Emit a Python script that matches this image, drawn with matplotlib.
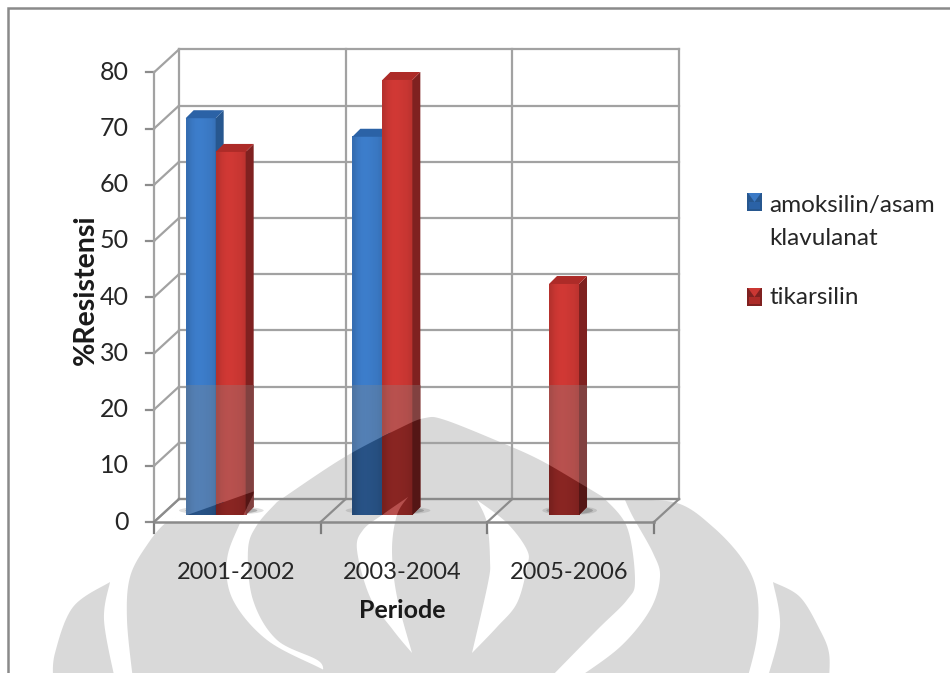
import matplotlib
matplotlib.use('Agg')
import matplotlib.pyplot as plt
import numpy as np
from matplotlib.path import Path
from matplotlib.patches import PathPatch, Ellipse, Polygon
from matplotlib.transforms import Affine2D

periods = ['2001-2002', '2003-2004', '2005-2006']
series_names = ['amoksilin/asam\nklavulanat', 'tikarsilin']
amoksilin = [70.6, 67.3, 0]
tikarsilin = [64.6, 77.4, 41.1]
y_ticks = [0, 10, 20, 30, 40, 50, 60, 70, 80]

# bar colours: front, side, top
blue = ('#3b7ac6', '#27578f', '#2b62a6')
red = ('#cb3733', '#7f2120', '#ad2b28')

plt.rcParams['font.family'] = ['Lato', 'DejaVu Sans']

fig = plt.figure(figsize=(9.5, 6.73), dpi=100)
ax = fig.add_axes([0, 0, 1, 1])
ax.axis('off')

# image-style pixel coordinates for the page furniture
px = Affine2D().scale(1 / 950, -1 / 673).translate(0, 1) + fig.transFigure

DX, DY = 0.15, 4.09  # depth of the chart box
BAR_W, BAR_X0 = 0.18, 0.19
BAR_BASE = 1.25
BAR_DX, BAR_DY = 0.048, 1.42
GRID = '#a2a2a2'


def ring(points):
    # same winding for every contour, so holes can be reversed
    pts = np.array(points, float)
    x, y = pts[:, 0], pts[:, 1]
    area = np.sum(x * np.roll(y, -1) - np.roll(x, -1) * y)
    return pts if area > 0 else pts[::-1]


def smooth(points, n=14):
    # Catmull-Rom through the outline points
    pts = np.array(points, float)
    out = []
    for i in range(len(pts) - 1):
        p0 = pts[max(i - 1, 0)]
        p1 = pts[i]
        p2 = pts[i + 1]
        p3 = pts[min(i + 2, len(pts) - 1)]
        for t in np.linspace(0, 1, n, endpoint=False):
            out.append(0.5 * (2 * p1 + (p2 - p0) * t + (2 * p0 - 5 * p1 + 4 * p2 - p3) * t ** 2
                              + (3 * p1 - p0 - 3 * p2 + p3) * t ** 3))
    out.append(pts[-1])
    return out


def contour_path(contours):
    verts, codes = [], []
    for c in contours:
        c = list(c)
        verts += c + [c[0]]
        codes += [Path.MOVETO] + [Path.LINETO] * (len(c) - 1) + [Path.CLOSEPOLY]
    return Path(np.array(verts), codes)


# background emblem: one body cut by two open strips, two lenses, two outer pieces
base = ring(smooth([(133, 680), (127, 620), (130, 577), (147, 545), (167, 522), (190, 514), (255, 491)])
            + smooth([(255, 491), (240, 523), (227, 560), (233, 600), (267, 640), (320, 668), (345, 680)])
            + smooth([(320, 680), (320, 662), (277, 640), (253, 600), (248, 550), (257, 525), (277, 502)])
            + smooth([(277, 502), (343, 458), (400, 428), (425, 418), (445, 420), (500, 442), (540, 460),
                      (583, 485), (603, 497)])
            + smooth([(603, 497), (627, 527), (635, 580), (627, 600), (597, 630), (548, 680)])
            + smooth([(575, 680), (620, 647), (650, 610), (660, 577), (653, 553), (633, 517), (625, 500)])
            + smooth([(625, 500), (677, 503), (713, 527), (743, 560), (757, 593), (757, 637), (747, 680)]))
left_lens = smooth([(408, 497), (382, 515), (363, 530), (357, 550), (370, 597), (393, 630), (412, 653)]) \
    + smooth([(412, 653), (397, 597), (392, 550), (397, 515), (408, 497)])
right_lens = smooth([(477, 500), (507, 523), (527, 550), (527, 567), (517, 603), (497, 627), (472, 653)]) \
    + smooth([(472, 653), (488, 583), (490, 560), (487, 523), (477, 500)])
far_left = smooth([(110, 582), (73, 607), (55, 653), (53, 680)]) + smooth([(115, 680), (104, 620), (110, 582)])
far_right = smooth([(773, 582), (800, 597), (820, 630), (829, 653), (829, 680)]) \
    + smooth([(767, 680), (780, 627), (773, 582)])

emblem = contour_path([base] + [ring(c)[::-1] for c in (left_lens, right_lens)]
                      + [ring(far_left), ring(far_right)])
ax.add_patch(PathPatch(emblem, transform=px, facecolor='#d9d9d9', edgecolor='none', zorder=1))
# the floor stays white left of the first strip
ax.add_patch(Polygon([(158, 523), (240, 523), (258, 490), (250, 490), (190, 512)], transform=px,
                     facecolor='white', edgecolor='none', zorder=1.5))

# walls and floor of the chart box
n = len(periods)
for v in y_ticks:
    ax.plot([DX, n + DX], [v + DY, v + DY], color=GRID, lw=1.6, zorder=2)
    ax.plot([0, DX], [v, v + DY], color=GRID, lw=1.6, zorder=2)
    ax.plot([-0.05, 0], [v, v], color='#8c8c8c', lw=1.6, zorder=2)
    ax.text(-0.15, v, str(v), ha='right', va='center', fontsize=18, color='#262626', zorder=7)
ax.plot([0, 0], [0, 80], color=GRID, lw=1.6, zorder=2)
for i in range(n + 1):
    ax.plot([i + DX, i + DX], [DY, 80 + DY], color=GRID, lw=1.6, zorder=2)
    ax.plot([i, i + DX], [0, DY], color='#8c8c8c', lw=1.6, zorder=2)
    ax.plot([i, i], [0, -1.9], color='#7c7c7c', lw=1.6, zorder=2)
ax.plot([0, n], [0, 0], color='#8a8a8a', lw=1.8, zorder=2)
ax.plot([DX, n + DX], [DY, DY], color='#8a8a8a', lw=1.6, zorder=2)

ramp = np.array([0.9, 0.98, 1.02, 1.03, 1.02, 1.0, 0.98, 0.93])
band = Path([(0, 385), (950, 385), (950, 680), (0, 680), (0, 385)])


def draw_bar(x0, value, colours):
    x1 = x0 + BAR_W
    top = BAR_BASE + value
    rgb = np.array(matplotlib.colors.to_rgb(colours[0]))
    side = [(x1, BAR_BASE), (x1 + BAR_DX, BAR_BASE + BAR_DY), (x1 + BAR_DX, top + BAR_DY), (x1, top)]
    lid = [(x0, top), (x1, top), (x1 + BAR_DX, top + BAR_DY), (x0 + BAR_DX, top + BAR_DY)]
    ax.bar(x0, value, width=BAR_W, bottom=BAR_BASE, align='edge', color=colours[0], zorder=4)
    grad = np.clip(rgb[None, None, :] * ramp[None, :, None], 0, 1)
    extent = [x0, x1, BAR_BASE, top]

    def layer(tone, z, clip=None):
        # tone maps a colour array to the shade used for this layer
        im = ax.imshow(tone(grad), extent=extent, aspect='auto', interpolation='bilinear', zorder=z)
        s = ax.fill(*zip(*side), color=tuple(tone(np.array(matplotlib.colors.to_rgb(colours[1])))), lw=0, zorder=z)[0]
        t = ax.fill(*zip(*lid), color=tuple(tone(np.array(matplotlib.colors.to_rgb(colours[2])))), lw=0, zorder=z)[0]
        if clip is not None:
            for art in (im, s, t):
                art.set_clip_path(clip, px)

    layer(lambda c: c, 4 + x0 * 0.01)
    layer(lambda c: c * 0.68 + 0.167, 4.3 + x0 * 0.01, clip=band)
    layer(lambda c: c * 0.66, 4.6 + x0 * 0.01, clip=emblem)


for i in range(n):
    # soft shadow on the floor around each group of bars
    heights = [amoksilin[i], tikarsilin[i]]
    first = 0 if heights[0] > 0 else 1
    left = i + BAR_X0 + first * BAR_W
    right = i + BAR_X0 + 2 * BAR_W + BAR_DX
    mid = (left + right) / 2
    for grow, a in ((1.0, 0.18), (0.85, 0.35)):
        ax.add_patch(Ellipse((mid + 0.01, BAR_BASE + 0.8), (right - left + 0.1) * grow, 1.6 * grow,
                             facecolor='#555555', edgecolor='none', alpha=a, zorder=3))
    if amoksilin[i] > 0:
        draw_bar(i + BAR_X0, amoksilin[i], blue)
    if tikarsilin[i] > 0:
        draw_bar(i + BAR_X0 + BAR_W, tikarsilin[i], red)
    ax.text(i + 0.49, -9.0, periods[i], ha='center', va='center', fontsize=17, color='#262626', zorder=7)

ax.text(1.49, -15.8, 'Periode', ha='center', va='center', fontsize=18, fontweight='bold', color='#1a1a1a', zorder=7)
ax.text(-0.41, 41.3, '%Resistensi', ha='center', va='center', rotation=90, fontsize=20.5, fontweight='bold',
        color='#1a1a1a', zorder=7)

# legend keys and labels
for name, colours, top, text_y in zip(series_names, (blue, red), (193, 288), (222, 298)):
    ax.add_patch(Polygon([(747, top), (762, top), (762, top + 18), (747, top + 18)], transform=px,
                         facecolor=colours[1], edgecolor='none', zorder=6))
    ax.add_patch(Polygon([(748, top), (761, top), (754.5, top + 9)], transform=px,
                         facecolor=colours[0], edgecolor='none', zorder=6))
    ax.add_patch(Polygon([(749, top + 9), (760, top + 9), (760, top + 16), (749, top + 16)], transform=px,
                         facecolor=colours[2], edgecolor='none', zorder=6))
    ax.text(769, text_y, name, transform=px, ha='left', va='center', fontsize=17.5, linespacing=1.7,
            color='#262626', zorder=7)

# thin page frame, open at the right and bottom
ax.plot([8, 8, 950], [673, 8, 8], transform=px, color='#8a8a8a', lw=1.8, zorder=8, solid_joinstyle='miter')

ax.set_xlim(-154 / 166.67, (950 - 154) / 166.67)
ax.set_ylim(-151 / 5.62, 522 / 5.62)

fig.savefig('out.png', dpi=100)
